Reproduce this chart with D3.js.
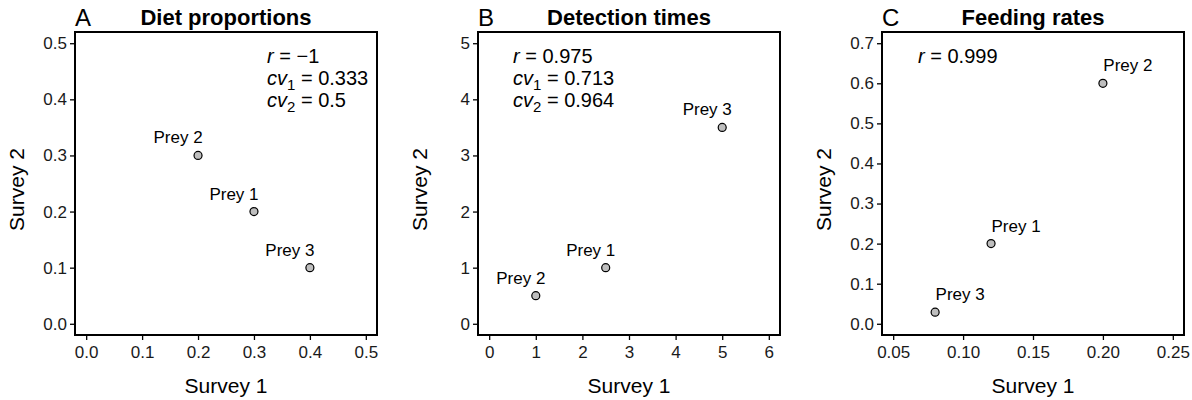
<!DOCTYPE html>
<html>
<head>
<meta charset="utf-8">
<script src="https://cdn.jsdelivr.net/npm/d3@7"></script>
<style>
  body { margin: 0; background: #fff; }
  svg { font-family: "Liberation Sans", Arial, sans-serif; }
</style>
</head>
<body>
<div id="viz"></div>
<script>
// data
var preyNames = ['Prey 1', 'Prey 2', 'Prey 3'];

var dietSurvey1 = [0.3, 0.2, 0.4];
var dietSurvey2 = [0.2, 0.3, 0.1];

var detectSurvey1 = [2.5, 1, 5];
var detectSurvey2 = [1, 0.5, 3.5];

var feedSurvey1 = [0.12, 0.2, 0.08];
var feedSurvey2 = [0.2, 0.6, 0.029];

var dietTicks = [0, 0.1, 0.2, 0.3, 0.4, 0.5];
var detectTicks = [0, 1, 2, 3, 4, 5, 6];
var detectYTicks = [0, 1, 2, 3, 4, 5];
var feedXTicks = [0.05, 0.10, 0.15, 0.20, 0.25];
var feedYTicks = [0, 0.1, 0.2, 0.3, 0.4, 0.5, 0.6, 0.7];

var dietStats = [['r', null, '\u22121'], ['cv', '1', '0.333'], ['cv', '2', '0.5']];
var detectStats = [['r', null, '0.975'], ['cv', '1', '0.713'], ['cv', '2', '0.964']];
var feedStats = [['r', null, '0.999']];

var panels = [
    { letter: 'A', title: 'Diet proportions', left: 75, xs: dietSurvey1, ys: dietSurvey2,
      xDomain: [-0.02, 0.52], yDomain: [-0.02, 0.52], xTicks: dietTicks, yTicks: dietTicks,
      xFmt: '.1f', yFmt: '.1f', stats: dietStats, statsX: 192, labelDx: -20 },
    { letter: 'B', title: 'Detection times', left: 478, xs: detectSurvey1, ys: detectSurvey2,
      xDomain: [-0.24, 6.24], yDomain: [-0.2, 5.2], xTicks: detectTicks, yTicks: detectYTicks,
      xFmt: 'd', yFmt: 'd', stats: detectStats, statsX: 35, labelDx: -15 },
    { letter: 'C', title: 'Feeding rates', left: 882, xs: feedSurvey1, ys: feedSurvey2,
      xDomain: [0.042, 0.258], yDomain: [-0.028, 0.728], xTicks: feedXTicks, yTicks: feedYTicks,
      xFmt: '.2f', yFmt: '.1f', stats: feedStats, statsX: 36, labelDx: 25 }
];

var width = 302,
    height = 303,
    marginTop = 32;

var svg = d3.select('#viz').append('svg')
    .attr('width', 1192)
    .attr('height', 400);

panels.forEach(function (p) {
    var g = svg.append('g')
        .attr('transform', 'translate(' + p.left + ',' + marginTop + ')');

    var xScale = d3.scaleLinear().domain(p.xDomain).range([0, width]);
    var yScale = d3.scaleLinear().domain(p.yDomain).range([height, 0]);

    var xAxis = d3.axisBottom(xScale)
        .tickValues(p.xTicks)
        .tickFormat(d3.format(p.xFmt))
        .tickSize(5)
        .tickPadding(6);
    var yAxis = d3.axisLeft(yScale)
        .tickValues(p.yTicks)
        .tickFormat(d3.format(p.yFmt))
        .tickSize(5)
        .tickPadding(3);

    var xg = g.append('g')
        .attr('transform', 'translate(0,' + height + ')')
        .call(xAxis);
    var yg = g.append('g').call(yAxis);

    [xg, yg].forEach(function (ax) {
        ax.select('.domain').remove();
        ax.selectAll('line').attr('stroke', '#000').attr('stroke-width', 1.3);
        ax.selectAll('text')
            .attr('fill', '#1a1a1a')
            .style('font-size', '17px');
    });

    // panel box
    g.append('rect')
        .attr('x', 0)
        .attr('y', 0)
        .attr('width', width)
        .attr('height', height)
        .attr('fill', 'none')
        .attr('stroke', '#000')
        .attr('stroke-width', 2);

    // points
    g.selectAll('circle').data(preyNames)
        .enter().append('circle')
        .attr('cx', function (d, i) { return xScale(p.xs[i]); })
        .attr('cy', function (d, i) { return yScale(p.ys[i]); })
        .attr('r', 4)
        .attr('fill', '#bebebe')
        .attr('stroke', '#000')
        .attr('stroke-width', 1.2);

    g.selectAll('text.lab').data(preyNames)
        .enter().append('text')
        .attr('class', 'lab')
        .attr('x', function (d, i) { return xScale(p.xs[i]) + p.labelDx; })
        .attr('y', function (d, i) { return yScale(p.ys[i]) - 12; })
        .attr('text-anchor', 'middle')
        .style('font-size', '17px')
        .text(function (d) { return d; });

    // stats text
    p.stats.forEach(function (s, i) {
        var t = g.append('text')
            .attr('x', p.statsX)
            .attr('y', 31 + i * 22)
            .style('font-size', '20px');
        t.append('tspan').style('font-style', 'italic').text(s[0]);
        if (s[1]) {
            t.append('tspan').attr('dy', 5).style('font-size', '15px').text(s[1]);
            t.append('tspan').attr('dy', -5).text(' = ' + s[2]);
        } else {
            t.append('tspan').text(' = ' + s[2]);
        }
    });

    // titles
    g.append('text')
        .attr('x', width / 2)
        .attr('y', -7)
        .attr('text-anchor', 'middle')
        .style('font-size', '22px')
        .style('font-weight', 'bold')
        .text(p.title);

    g.append('text')
        .attr('x', 0)
        .attr('y', -6)
        .style('font-size', '24px')
        .text(p.letter);

    g.append('text')
        .attr('x', width / 2)
        .attr('y', 361)
        .attr('text-anchor', 'middle')
        .style('font-size', '21px')
        .text('Survey 1');

    g.append('text')
        .attr('transform', 'translate(-51,' + (height / 2 + 6) + ') rotate(-90)')
        .attr('text-anchor', 'middle')
        .style('font-size', '21px')
        .text('Survey 2');
});
</script>
</body>
</html>
